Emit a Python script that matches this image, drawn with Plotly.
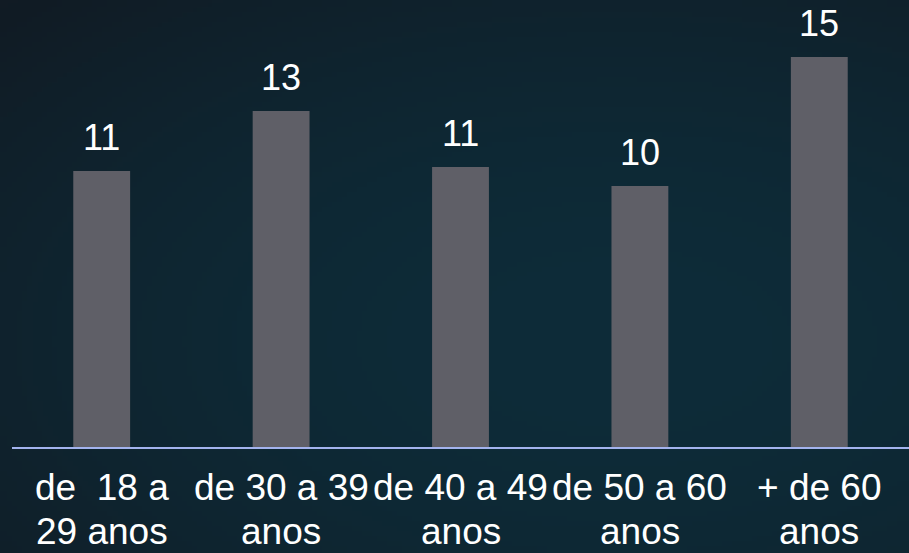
import base64, struct, zlib
import numpy as np
import plotly.graph_objects as go

categories = ["de  18 a\n29 anos", "de 30 a 39\nanos", "de 40 a 49\nanos", "de 50 a 60\nanos", "+ de 60\nanos"]
values = [10.62, 12.92, 10.77, 10.04, 15.0]
value_labels = ["11", "13", "11", "10", "15"]

W_FIG, H_FIG = 909, 553
M_L, M_R, M_T, M_B = 12, 0, 0, 106
PX_PER_UNIT = 26.0
PLOT_W = W_FIG - M_L - M_R
PLOT_H = H_FIG - M_T - M_B
Y_MAX = PLOT_H / PX_PER_UNIT


def make_png(rgb):
    h, w, _ = rgb.shape
    raw = b"".join(b"\x00" + rgb[i].astype(np.uint8).tobytes() for i in range(h))
    def chunk(tag, data):
        c = struct.pack(">I", len(data)) + tag + data
        return c + struct.pack(">I", zlib.crc32(tag + data) & 0xffffffff)
    png = b"\x89PNG\r\n\x1a\n"
    png += chunk(b"IHDR", struct.pack(">IIBBBBB", w, h, 8, 2, 0, 0, 0))
    png += chunk(b"IDAT", zlib.compress(raw, 9))
    png += chunk(b"IEND", b"")
    return png

# background gradient (dark navy edges, teal toward centre-right)
gw, gh = 182, 111
yy, xx = np.mgrid[0:gh, 0:gw]
u = xx / (gw - 1)
v = yy / (gh - 1)
d = np.sqrt(((u - 0.68) * 1.0) ** 2 + ((v - 0.62) * 1.1) ** 2) / 0.95
t = np.clip(d, 0, 1) ** 1.8
teal = np.array([13, 44, 57], float)
dark = np.array([17, 27, 36], float)
rgb = teal[None, None, :] * (1 - t[..., None]) + dark[None, None, :] * t[..., None]
bg_uri = "data:image/png;base64," + base64.b64encode(make_png(rgb)).decode()

FONT = "Liberation Sans, Arial, sans-serif"

fig = go.Figure()
fig.add_trace(go.Bar(
    x=list(range(len(categories))),
    y=values,
    marker=dict(color="#5f5f67", line=dict(width=0)),
    width=0.317,
    hoverinfo="skip",
))

annotations = []
for i, (val, lab) in enumerate(zip(values, value_labels)):
    annotations.append(dict(
        x=i, y=val, xref="x", yref="y", text=lab, showarrow=False,
        yanchor="bottom", yshift=11,
        font=dict(family=FONT, size=36, color="#ffffff"),
    ))
for i, cat in enumerate(categories):
    for j, line in enumerate(cat.split("\n")):
        annotations.append(dict(
            x=i, y=0, xref="x", yref="y", text=line, showarrow=False,
            yanchor="top", yshift=-18 - 44 * j,
            font=dict(family=FONT, size=37, color="#ffffff"),
        ))

fig.update_layout(
    width=W_FIG, height=H_FIG,
    margin=dict(l=M_L, r=M_R, t=M_T, b=M_B),
    paper_bgcolor="#0f2430",
    plot_bgcolor="rgba(0,0,0,0)",
    showlegend=False,
    annotations=annotations,
    images=[dict(
        source=bg_uri, xref="paper", yref="paper",
        x=-M_L / PLOT_W, y=1 + M_T / PLOT_H,
        sizex=W_FIG / PLOT_W, sizey=H_FIG / PLOT_H,
        sizing="stretch", xanchor="left", yanchor="top", layer="below",
    )],
    xaxis=dict(
        range=[-0.5, len(categories) - 0.5],
        showgrid=False, zeroline=False, showticklabels=False, ticks="",
        showline=True, linecolor="#a3b3ee", linewidth=2,
        fixedrange=True,
    ),
    yaxis=dict(
        range=[0, Y_MAX], showgrid=False, zeroline=False,
        showticklabels=False, ticks="", showline=False, fixedrange=True,
    ),
)

fig.write_html(
    "out.html",
    config={"displayModeBar": False},
    post_script="document.body.style.margin='0';document.body.style.padding='0';document.body.style.overflow='hidden';",
)
